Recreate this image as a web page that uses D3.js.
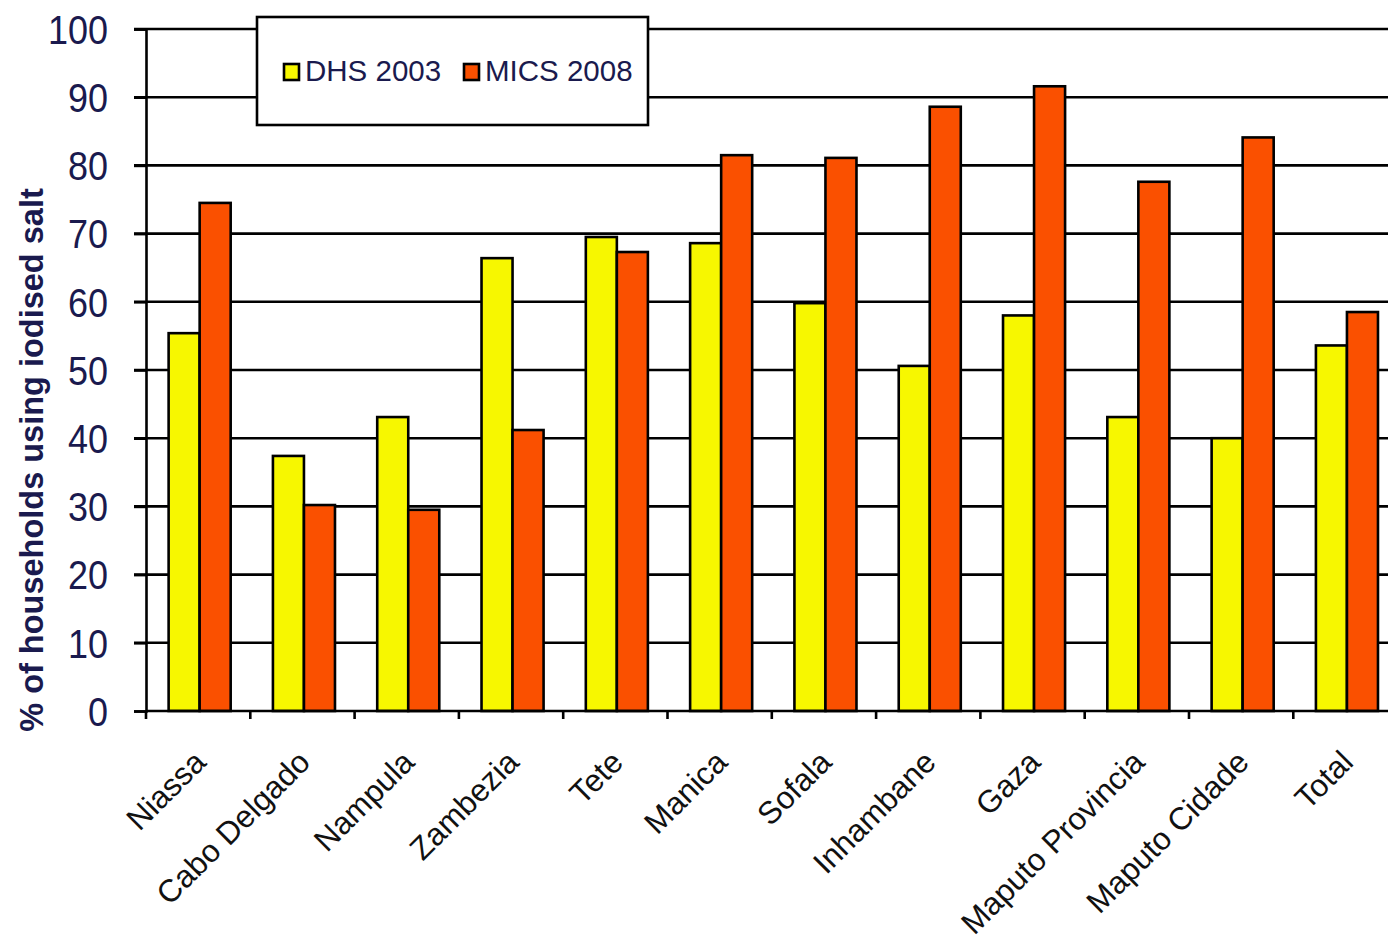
<!DOCTYPE html>
<html>
<head>
<meta charset="utf-8">
<script src="https://cdn.jsdelivr.net/npm/d3@7"></script>
<style>
  body { margin: 0; background: #fff; }
  svg { display: block; font-family: "Liberation Sans", Arial, sans-serif; }
</style>
</head>
<body>
<svg id="chart"></svg>
<script>
const W = 1388, H = 941;

const regions = ["Niassa", "Cabo Delgado", "Nampula", "Zambezia", "Tete", "Manica",
    "Sofala", "Inhambane", "Gaza", "Maputo Provincia", "Maputo Cidade", "Total"];
const dhs2003 = [55.4, 37.4, 43.1, 66.4, 69.5, 68.6, 59.8, 50.6, 58.0, 43.1, 40.0, 53.6];
const mics2008 = [74.5, 30.2, 29.5, 41.2, 67.3, 81.5, 81.1, 88.6, 91.6, 77.6, 84.1, 58.5];
const seriesNames = ["DHS 2003", "MICS 2008"];
const yTicks = [0, 10, 20, 30, 40, 50, 60, 70, 80, 90, 100];

const colors = { "DHS 2003": "#f7f700", "MICS 2008": "#fa5000" };
const textColor = "#1a1a4e";

const plotLeft = 146, plotTop = 29, plotBottom = 711;
const step = 104.3;
const plotRight = plotLeft + step * regions.length;

const svg = d3.select("#chart").attr("width", W).attr("height", H);

const x = d3.scaleBand().domain(regions).range([plotLeft + 1.5, plotRight + 1.5])
    .paddingInner(0.405).paddingOuter(0.2025);
const x1 = d3.scaleBand().domain(seriesNames).range([0, x.bandwidth()]);
const y = d3.scaleLinear().domain([0, 100]).range([plotBottom, plotTop]);

const rows = regions.map((r, i) => ({ region: r, "DHS 2003": dhs2003[i], "MICS 2008": mics2008[i] }));

// gridlines
svg.append("g").selectAll("line")
    .data(yTicks.filter(d => d > 0))
    .enter().append("line")
    .attr("x1", plotLeft - 12).attr("x2", W + 20)
    .attr("y1", d => y(d)).attr("y2", d => y(d))
    .attr("stroke", "#000").attr("stroke-width", 2.6);

// bars
svg.append("g").selectAll("g")
    .data(rows)
    .enter().append("g")
    .attr("transform", d => `translate(${x(d.region)},0)`)
    .selectAll("rect")
    .data(d => seriesNames.map(k => ({ key: k, value: d[k] })))
    .enter().append("rect")
    .attr("x", d => x1(d.key))
    .attr("y", d => y(d.value))
    .attr("width", x1.bandwidth())
    .attr("height", d => y(0) - y(d.value))
    .attr("fill", d => colors[d.key])
    .attr("stroke", "#000")
    .attr("stroke-width", 2.6);

// y axis
const yAxis = svg.append("g")
    .attr("transform", `translate(${plotLeft},0)`)
    .call(d3.axisLeft(y).tickValues(yTicks).tickSize(12).tickPadding(26));
yAxis.select(".domain").attr("stroke-width", 2.6);
yAxis.selectAll(".tick line").attr("stroke-width", 2.6);
yAxis.selectAll(".tick text")
    .attr("fill", textColor)
    .style("font-size", "36px")
    .attr("dy", null)
    .attr("dominant-baseline", "central")
    .attr("transform", "scale(1,1.12)");

// x axis
svg.append("line")
    .attr("x1", plotLeft).attr("x2", W + 20)
    .attr("y1", plotBottom).attr("y2", plotBottom)
    .attr("stroke", "#000").attr("stroke-width", 2.6);
svg.append("g").selectAll("line")
    .data(d3.range(regions.length + 1))
    .enter().append("line")
    .attr("x1", i => plotLeft + i * x.step()).attr("x2", i => plotLeft + i * x.step())
    .attr("y1", plotBottom).attr("y2", plotBottom + 8)
    .attr("stroke", "#000").attr("stroke-width", 2.6);

svg.append("g").selectAll("text")
    .data(regions)
    .enter().append("text")
    .attr("transform", d => `translate(${x(d) + x.bandwidth() / 2 + 8},${plotBottom + 53}) rotate(-45)`)
    .attr("text-anchor", "end")
    .attr("fill", "#111")
    .style("font-size", "31.5px")
    .text(d => d);

// y label
svg.append("text")
    .attr("transform", `translate(43,${(188 + 732) / 2}) rotate(-90)`)
    .attr("text-anchor", "middle")
    .attr("fill", textColor)
    .style("font-size", "32.5px")
    .style("font-weight", "bold")
    .text("% of households using iodised salt");

// legend
const legend = svg.append("g");
legend.append("rect")
    .attr("x", 257).attr("y", 17).attr("width", 391).attr("height", 108)
    .attr("fill", "#fff").attr("stroke", "#000").attr("stroke-width", 2.6);
const legendX = [284, 464];
seriesNames.forEach((s, i) => {
    legend.append("rect")
        .attr("x", legendX[i]).attr("y", 64).attr("width", 15).attr("height", 16)
        .attr("fill", colors[s]).attr("stroke", "#000").attr("stroke-width", 2.6);
    legend.append("text")
        .attr("x", legendX[i] + 21).attr("y", 81)
        .attr("fill", textColor)
        .style("font-size", "29.5px")
        .text(s);
});
</script>
</body>
</html>
